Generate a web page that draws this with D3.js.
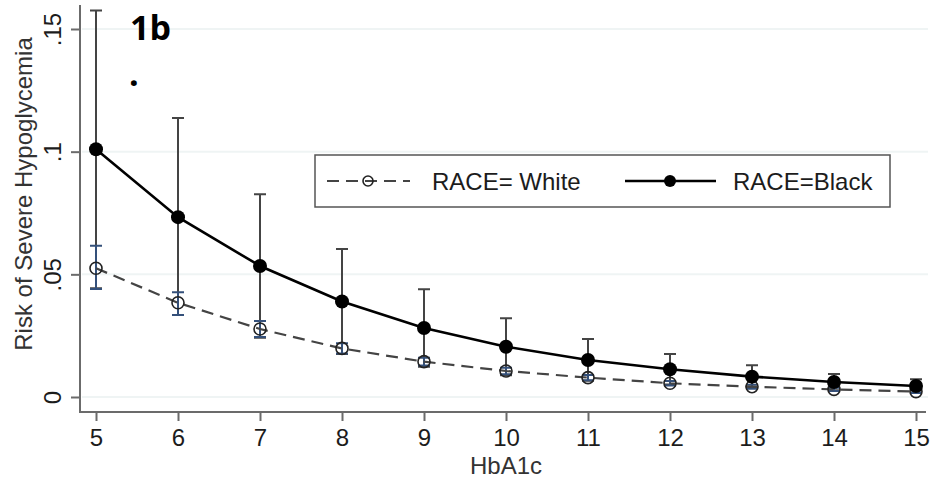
<!DOCTYPE html>
<html>
<head>
<meta charset="utf-8">
<script src="https://cdn.jsdelivr.net/npm/d3@7"></script>
<style>
  html, body { margin: 0; padding: 0; background: #fff; }
  svg { display: block; font-family: "Liberation Sans", Arial, Helvetica, sans-serif; }
</style>
</head>
<body>
<svg id="chart" width="931" height="479"></svg>
<script>
// HbA1c levels on the x axis
const hba1c = [5, 6, 7, 8, 9, 10, 11, 12, 13, 14, 15];

// Predicted risk of severe hypoglycemia, White patients (point, lower CI, upper CI)
const whiteRisk  = [0.0525, 0.0384, 0.0277, 0.0198, 0.0144, 0.0106, 0.0079, 0.0056, 0.0042, 0.0031, 0.0022];
const whiteLower = [0.0440, 0.0334, 0.0245, 0.0177, 0.0128, 0.0093, 0.0068, 0.0047, 0.0034, 0.0024, 0.0016];
const whiteUpper = [0.0617, 0.0427, 0.0310, 0.0219, 0.0160, 0.0119, 0.0090, 0.0065, 0.0050, 0.0038, 0.0028];

// Predicted risk of severe hypoglycemia, Black patients (point, lower CI, upper CI)
const blackRisk  = [0.1010, 0.0733, 0.0534, 0.0389, 0.0281, 0.0205, 0.0151, 0.0113, 0.0083, 0.0061, 0.0045];
const blackLower = [0.0443, 0.0334, 0.0242, 0.0175, 0.0123, 0.0089, 0.0066, 0.0051, 0.0037, 0.0028, 0.0018];
const blackUpper = [0.1575, 0.1137, 0.0826, 0.0603, 0.0439, 0.0321, 0.0236, 0.0175, 0.0129, 0.0094, 0.0072];

// Axis ticks
const yTicks = [0, 0.05, 0.10, 0.15];
const yTickLabels = ["0", ".05", ".1", ".15"];
const xTicks = hba1c;

const seriesLabels = ["RACE= White", "RACE=Black"];

const svg = d3.select("#chart");

const x = d3.scaleLinear().domain([5, 15]).range([96, 916]);
const y = d3.scaleLinear().domain([0, 0.15]).range([397, 29]);

const axisColor = "#6b6b6b";
const textColor = "#1c1c1c";
const fontSize = 24;

// light horizontal gridlines
svg.append("g").selectAll("line").data(yTicks).join("line")
  .attr("x1", 82).attr("x2", 928)
  .attr("y1", d => y(d)).attr("y2", d => y(d))
  .attr("stroke", "#eff4f4").attr("stroke-width", 2);

// y axis
const yAxis = svg.append("g").attr("transform", "translate(80,0)")
  .call(d3.axisLeft(y).tickValues(yTicks).tickFormat((d, i) => yTickLabels[i]).tickSize(9).tickPadding(0));
yAxis.select(".domain").attr("d", "M0,5V412").attr("stroke", axisColor).attr("stroke-width", 2);
yAxis.selectAll(".tick line").attr("stroke", axisColor).attr("stroke-width", 2);
yAxis.selectAll(".tick text")
  .attr("fill", textColor).attr("font-size", fontSize)
  .attr("text-anchor", "middle")
  .attr("x", 0).attr("dy", 0)
  .attr("transform", "translate(-28,0) rotate(-90)")
  .attr("dominant-baseline", "central");

// x axis
const xAxis = svg.append("g").attr("transform", "translate(0,412)")
  .call(d3.axisBottom(x).tickValues(xTicks).tickFormat(d3.format("d")).tickSize(9).tickPadding(8));
xAxis.select(".domain").attr("d", "M79,0H926").attr("stroke", axisColor).attr("stroke-width", 2);
xAxis.selectAll(".tick line").attr("stroke", axisColor).attr("stroke-width", 2);
xAxis.selectAll(".tick text").attr("fill", textColor).attr("font-size", fontSize);

// axis titles
svg.append("text")
  .attr("transform", "translate(23,194) rotate(-90)")
  .attr("text-anchor", "middle").attr("dominant-baseline", "central")
  .attr("font-size", fontSize).attr("fill", "#333")
  .text("Risk of Severe Hypoglycemia");

svg.append("text")
  .attr("x", x(10)).attr("y", 474)
  .attr("text-anchor", "middle")
  .attr("font-size", fontSize).attr("fill", "#333")
  .text("HbA1c");

// panel label
svg.append("text")
  .attr("x", 130).attr("y", 40)
  .attr("font-family", "'Open Sans', 'Noto Sans', sans-serif")
  .attr("font-weight", "bold").attr("font-size", 34).attr("fill", "#000")
  .text("1b");
svg.append("text")
  .attr("x", 129).attr("y", 86)
  .attr("font-family", "'Open Sans', 'Noto Sans', sans-serif")
  .attr("font-weight", "bold").attr("font-size", 34).attr("fill", "#000")
  .text(".");

const capHalf = 6;

function errorBars(lower, upper, color) {
  const g = svg.append("g").attr("stroke", color).attr("stroke-width", 2).attr("fill", "none");
  const data = hba1c.map((h, i) => ({ h, lo: lower[i], hi: upper[i] }));
  g.selectAll("path").data(data).join("path")
    .attr("d", d => {
      const cx = x(d.h), yl = y(d.lo), yh = y(d.hi);
      return `M${cx},${yl}V${yh}M${cx - capHalf},${yh}H${cx + capHalf}M${cx - capHalf},${yl}H${cx + capHalf}`;
    });
}

// confidence intervals
errorBars(blackLower, blackUpper, "#444");
errorBars(whiteLower, whiteUpper, "#34507a");

const line = d3.line().x((d, i) => x(hba1c[i])).y(d => y(d));

// White: dashed line with hollow circles
svg.append("path").datum(whiteRisk)
  .attr("d", line).attr("fill", "none")
  .attr("stroke", "#444").attr("stroke-width", 2.2)
  .attr("stroke-dasharray", "12,7");
svg.append("g").selectAll("circle").data(whiteRisk).join("circle")
  .attr("cx", (d, i) => x(hba1c[i])).attr("cy", d => y(d)).attr("r", 6)
  .attr("fill", "none").attr("stroke", "#222").attr("stroke-width", 1.6);

// Black: solid line with filled circles
svg.append("path").datum(blackRisk)
  .attr("d", line).attr("fill", "none")
  .attr("stroke", "#000").attr("stroke-width", 2.6);
svg.append("g").selectAll("circle").data(blackRisk).join("circle")
  .attr("cx", (d, i) => x(hba1c[i])).attr("cy", d => y(d)).attr("r", 7)
  .attr("fill", "#000");

// legend
const legend = svg.append("g");
legend.append("rect")
  .attr("x", 315).attr("y", 155).attr("width", 575).attr("height", 52)
  .attr("fill", "#fff").attr("stroke", "#555").attr("stroke-width", 1.5);
const ly = 181;
legend.append("line").attr("x1", 327).attr("x2", 410).attr("y1", ly).attr("y2", ly)
  .attr("stroke", "#444").attr("stroke-width", 2.2).attr("stroke-dasharray", "12,7");
legend.append("circle").attr("cx", 368).attr("cy", ly).attr("r", 5)
  .attr("fill", "none").attr("stroke", "#222").attr("stroke-width", 1.6);
legend.append("text").attr("x", 432).attr("y", ly).attr("dominant-baseline", "central")
  .attr("font-size", fontSize).attr("fill", textColor).text(seriesLabels[0]);
legend.append("line").attr("x1", 625).attr("x2", 716).attr("y1", ly).attr("y2", ly)
  .attr("stroke", "#000").attr("stroke-width", 2.6);
legend.append("circle").attr("cx", 670).attr("cy", ly).attr("r", 6).attr("fill", "#000");
legend.append("text").attr("x", 733).attr("y", ly).attr("dominant-baseline", "central")
  .attr("font-size", fontSize).attr("fill", textColor).text(seriesLabels[1]);
</script>
</body>
</html>
